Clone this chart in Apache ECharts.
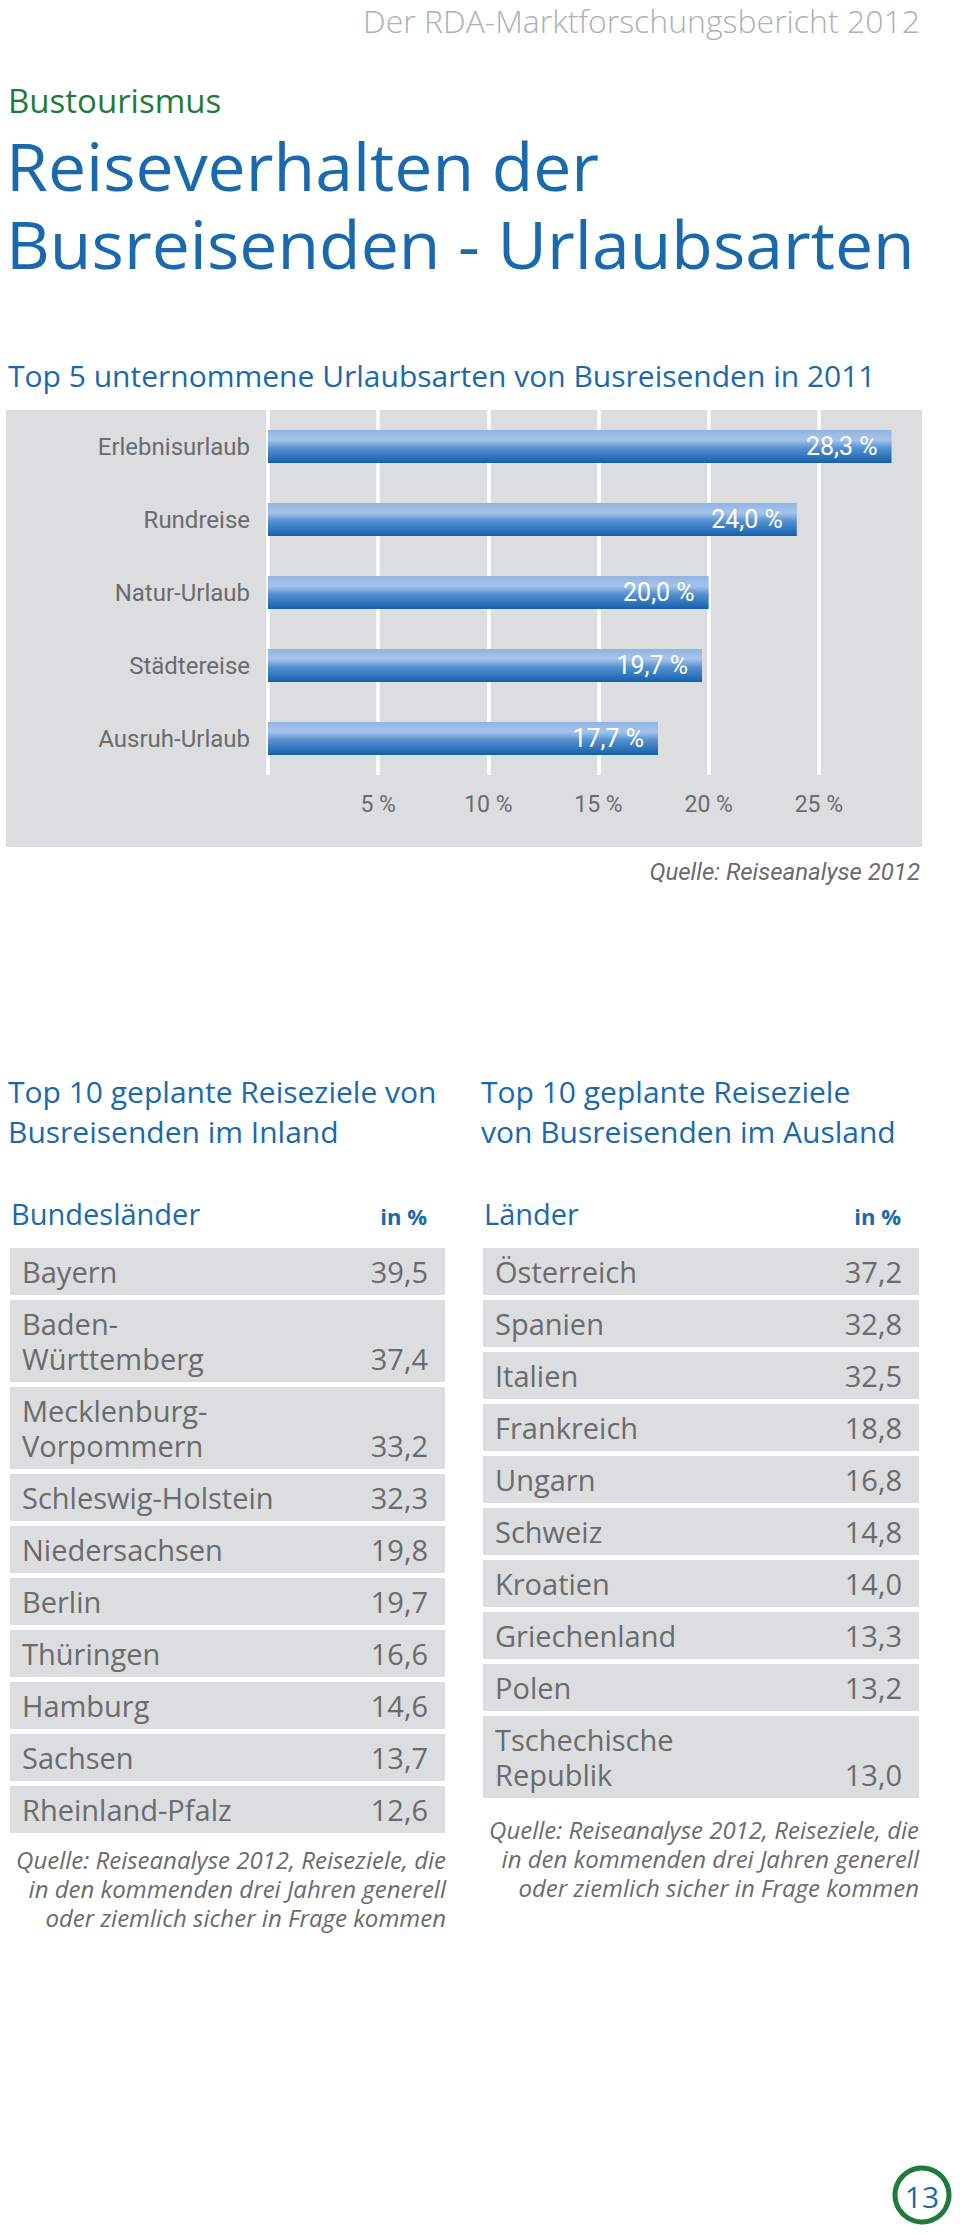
<!DOCTYPE html>
<html><head><meta charset="utf-8">
<script src="https://cdn.jsdelivr.net/npm/echarts@6/dist/echarts.min.js"></script>
<style>html,body{margin:0;padding:0;background:#fff}#c{width:960px;height:2234px}</style>
</head><body><div id="c"></div>
<script>
// ---------- data ----------
const typeCategories = ['Erlebnisurlaub', 'Rundreise', 'Natur-Urlaub', 'Städtereise', 'Ausruh-Urlaub'];
const typeValues = [28.3, 24.0, 20.0, 19.7, 17.7];
const xTickLabels = [5, 10, 15, 20, 25];

const inlandNames = ['Bayern', 'Baden-\nWürttemberg', 'Mecklenburg-\nVorpommern', 'Schleswig-Holstein', 'Niedersachsen', 'Berlin', 'Thüringen', 'Hamburg', 'Sachsen', 'Rheinland-Pfalz'];
const inlandValues = [39.5, 37.4, 33.2, 32.3, 19.8, 19.7, 16.6, 14.6, 13.7, 12.6];

const abroadNames = ['Österreich', 'Spanien', 'Italien', 'Frankreich', 'Ungarn', 'Schweiz', 'Kroatien', 'Griechenland', 'Polen', 'Tschechische\nRepublik'];
const abroadValues = [37.2, 32.8, 32.5, 18.8, 16.8, 14.8, 14.0, 13.3, 13.2, 13.0];

// ---------- styling ----------
const SANS = "'Open Sans', 'Noto Sans', sans-serif";
const COND = "Roboto, 'Liberation Sans', sans-serif";
const BLUE = '#1a69ad';
const GREEN = '#1e7b3c';
const GREYTXT = '#6a6b6d';
const PANEL = '#dcdddf';
const LINE_H = 35, ROW_PAD = 12, ROW_GAP = 5;

const fmt = v => v.toFixed(1).replace('.', ',');

function layoutRows(names) {
  let y = 0; const s = [], e = [];
  names.forEach(n => {
    const h = n.split('\n').length * LINE_H + ROW_PAD;
    s.push(y); e.push(y + h); y += h + ROW_GAP;
  });
  return { s, e, total: y - ROW_GAP };
}
const inL = layoutRows(inlandNames);
const abL = layoutRows(abroadNames);

function tableRender(layout, names, values) {
  return function (params, api) {
    const i = params.dataIndex;
    const p0 = api.coord([0, layout.s[i]]);
    const p1 = api.coord([1, layout.e[i]]);
    const x = p0[0], y = p0[1], w = p1[0] - p0[0], h = p1[1] - p0[1];
    return {
      type: 'group',
      children: [
        { type: 'rect', shape: { x, y, width: w, height: h }, style: { fill: PANEL } },
        { type: 'text', style: { text: names[i], x: x + 12, y: y + h / 2, align: 'left', textAlign: 'left', verticalAlign: 'middle', textVerticalAlign: 'middle', fill: GREYTXT, fontSize: 29, fontFamily: SANS, lineHeight: LINE_H } },
        { type: 'text', style: { text: fmt(values[i]), x: x + w - 17, y: y + h - 23.5, align: 'right', textAlign: 'right', verticalAlign: 'middle', textVerticalAlign: 'middle', fill: GREYTXT, fontSize: 29, fontFamily: SANS } }
      ]
    };
  };
}

function txt(text, x, y, o, extra) {
  return Object.assign({ type: 'text', x: x, y: y, z: 10, style: Object.assign({ text, align: 'left', textAlign: 'left', verticalAlign: 'middle', textVerticalAlign: 'middle', fontFamily: SANS }, o) }, extra || {});
}

const chart = echarts.init(document.getElementById('c'), null, { renderer: 'svg', width: 960, height: 2234 });

const NOTE = 'Quelle: Reiseanalyse 2012, Reiseziele, die\nin den kommenden drei Jahren generell\noder ziemlich sicher in Frage kommen';
const HEAD = { fill: BLUE, fontSize: 30 };

const option = {
  backgroundColor: '#ffffff',
  animation: false,
  graphic: [
    { type: 'rect', z: -10, shape: { x: 6, y: 410, width: 916, height: 437 }, style: { fill: PANEL } },
    txt('Der RDA-Marktforschungsbericht 2012', 920, 20, { align: 'right', textAlign: 'right', fill: '#aeb0b3', fontSize: 32, fontWeight: 300 }),
    txt('Bustourismus', 8, 100, { fill: GREEN, fontSize: 33 }),
    txt('Reiseverhalten der', 6, 166, { fill: BLUE, fontSize: 65 }, { scaleX: 1.045 }),
    txt('Busreisenden - Urlaubsarten', 6, 244, { fill: BLUE, fontSize: 65 }, { scaleX: 1.045 }),
    txt('Top 5 unternommene Urlaubsarten von Busreisenden in 2011', 8, 375, { fill: BLUE, fontSize: 30 }),
    txt('Quelle: Reiseanalyse 2012', 920, 872, { align: 'right', textAlign: 'right', fill: GREYTXT, fontSize: 24, fontStyle: 'italic', fontFamily: COND }),
    txt('Top 10 geplante Reiseziele von', 8, 1091, HEAD),
    txt('Busreisenden im Inland', 8, 1131, HEAD),
    txt('Top 10 geplante Reiseziele', 481, 1091, HEAD),
    txt('von Busreisenden im Ausland', 481, 1131, HEAD),
    txt('Bundesländer', 11, 1213, { fill: BLUE, fontSize: 29 }),
    txt('in %', 427, 1216, { align: 'right', textAlign: 'right', fill: BLUE, fontSize: 22, fontWeight: 'bold' }),
    txt('Länder', 484, 1213, { fill: BLUE, fontSize: 29 }),
    txt('in %', 901, 1216, { align: 'right', textAlign: 'right', fill: BLUE, fontSize: 22, fontWeight: 'bold' }),
    txt(NOTE, 446, 1888, { align: 'right', textAlign: 'right', fill: GREYTXT, fontSize: 24, fontStyle: 'italic', lineHeight: 29 }),
    txt(NOTE, 919, 1858, { align: 'right', textAlign: 'right', fill: GREYTXT, fontSize: 24, fontStyle: 'italic', lineHeight: 29 }),
    { type: 'circle', z: 10, shape: { cx: 922, cy: 2195, r: 27 }, style: { fill: '#ffffff', stroke: GREEN, lineWidth: 5 } },
    txt('13', 922, 2196, { align: 'center', textAlign: 'center', fill: BLUE, fontSize: 30 })
  ],
  grid: [
    { left: 268, top: 410, width: 661, height: 365, containLabel: false },
    { left: 10, top: 1248, width: 435, height: inL.total },
    { left: 483, top: 1248, width: 436, height: abL.total }
  ],
  xAxis: [
    {
      gridIndex: 0, type: 'value', min: 0, max: 30, interval: 5,
      axisLine: { show: false }, axisTick: { show: false },
      splitLine: { show: true, lineStyle: { color: '#ffffff', width: 3.5 } },
      axisLabel: { margin: 18, color: GREYTXT, fontSize: 23, fontFamily: COND, formatter: v => xTickLabels.includes(v) ? v + ' %' : '' }
    },
    { gridIndex: 1, type: 'value', min: 0, max: 1, show: false },
    { gridIndex: 2, type: 'value', min: 0, max: 1, show: false }
  ],
  yAxis: [
    {
      gridIndex: 0, type: 'category', data: typeCategories, inverse: true,
      axisLine: { show: false }, axisTick: { show: false }, splitLine: { show: false },
      axisLabel: { margin: 18, color: GREYTXT, fontSize: 24, fontFamily: COND }
    },
    { gridIndex: 1, type: 'value', min: 0, max: inL.total, inverse: true, show: false },
    { gridIndex: 2, type: 'value', min: 0, max: abL.total, inverse: true, show: false }
  ],
  series: [
    {
      type: 'bar', xAxisIndex: 0, yAxisIndex: 0, data: typeValues, barWidth: 33, z: 5,
      itemStyle: {
        color: new echarts.graphic.LinearGradient(0, 0, 0, 1, [
          { offset: 0, color: '#8fb4e2' },
          { offset: 0.3, color: '#a6c4e9' },
          { offset: 0.55, color: '#5590d1' },
          { offset: 1, color: '#1560aa' }
        ])
      },
      label: { show: true, position: 'insideRight', distance: 14, color: '#ffffff', fontSize: 25, fontFamily: COND, formatter: p => fmt(p.value) + ' %' }
    },
    {
      type: 'custom', xAxisIndex: 1, yAxisIndex: 1, clip: false,
      data: inlandValues.map((v, i) => [0.5, (inL.s[i] + inL.e[i]) / 2, v]),
      renderItem: tableRender(inL, inlandNames, inlandValues)
    },
    {
      type: 'custom', xAxisIndex: 2, yAxisIndex: 2, clip: false,
      data: abroadValues.map((v, i) => [0.5, (abL.s[i] + abL.e[i]) / 2, v]),
      renderItem: tableRender(abL, abroadNames, abroadValues)
    }
  ]
};
chart.setOption(option);
</script>
</body></html>
